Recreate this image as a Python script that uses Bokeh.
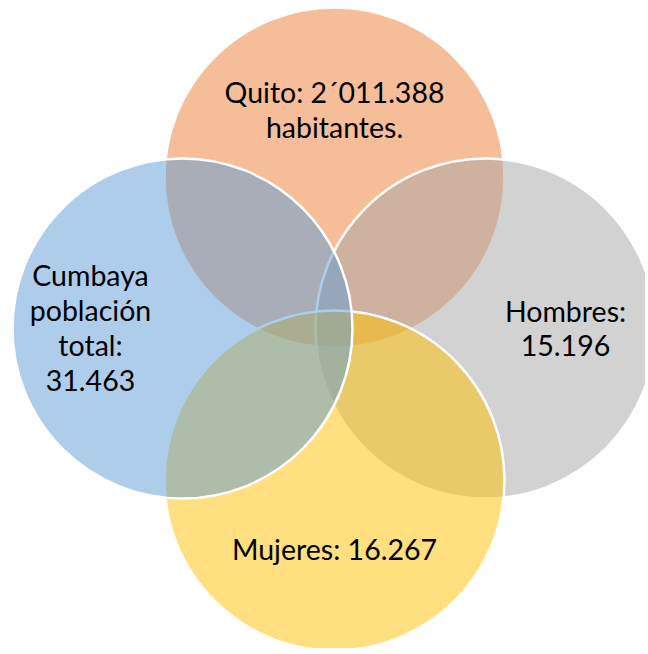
from bokeh.plotting import figure
from bokeh.models import Range1d
from bokeh.embed import file_html
from bokeh.resources import INLINE
from bokeh.core.properties import value

# Data
categories = ["Quito", "Hombres", "Mujeres", "Cumbaya"]
labels = [
    ["Quito: 2\u00b4011.388", "habitantes."],
    ["Hombres:", "15.196"],
    ["Mujeres: 16.267"],
    ["Cumbaya", "poblaci\u00f3n", "total:", "31.463"],
]
colors = ["#ED7D31", "#A5A5A5", "#FFC000", "#5B9BD5"]

# Layout (pixel-like coordinates of the reference)
cx = [337, 488, 337, 185]
cy = [180, 331, 483, 331]
radius = 170
text_x = [337, 568, 337, 93]
text_y0 = [94, 313, 551, 277]
line_h = 35.3

W, H, OFF = 645, 648, 3
p = figure(width=W, height=H, output_backend="svg", toolbar_location=None,
           x_range=Range1d(OFF, OFF + W), y_range=Range1d(OFF + H, OFF),
           min_border=0, outline_line_color=None)
p.axis.visible = False
p.grid.visible = False
p.background_fill_color = "white"

for i in range(len(categories)):
    p.circle(x=[cx[i]], y=[cy[i]], radius=radius, fill_color=colors[i],
             fill_alpha=0.5, line_color="white", line_width=2.5)

for i in range(len(categories)):
    xs = [text_x[i]] * len(labels[i])
    ys = [text_y0[i] + k * line_h for k in range(len(labels[i]))]
    p.text(x=xs, y=ys, text=labels[i], text_align="center", text_baseline="middle",
           text_font=value("Lato"), text_font_size="28.5px", text_color="#000000")

open("out.html", "w").write(file_html(p, INLINE))
